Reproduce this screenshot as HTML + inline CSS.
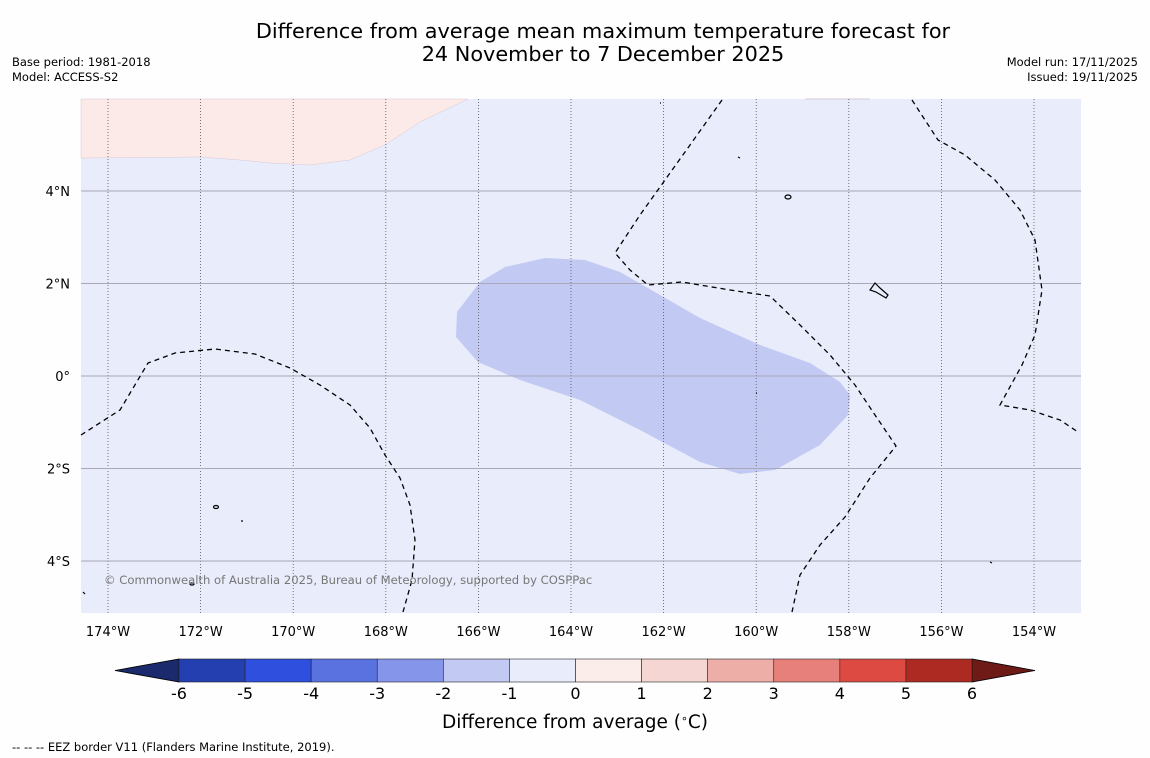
<!DOCTYPE html>
<html><head><meta charset="utf-8"><style>
body{margin:0;background:#fff;width:1150px;height:758px;overflow:hidden;font-family:"DejaVu Sans","Liberation Sans",sans-serif}
svg{display:block}
</style></head><body>
<svg id="c" width="1150" height="758" xmlns="http://www.w3.org/2000/svg">
<rect width="1150" height="758" fill="#fefefe"/>
<text x="603" y="38" font-size="20.8" text-anchor="middle" fill="#000">Difference from average mean maximum temperature forecast for</text>
<text x="603" y="61" font-size="20.8" text-anchor="middle" fill="#000">24 November to 7 December 2025</text>
<text x="12" y="66" font-size="11.5">Base period: 1981-2018</text>
<text x="12" y="81" font-size="11.5">Model: ACCESS-S2</text>
<text x="1138" y="66" font-size="11.5" text-anchor="end">Model run: 17/11/2025</text>
<text x="1138" y="81" font-size="11.5" text-anchor="end">Issued: 19/11/2025</text>
<g>
<rect x="81" y="99" width="1000" height="514" fill="#e9ecfa"/>
<path d="M81,99 L468,99 L420,122 L385,145 L350,160 L310,165 L270,163 L240,160 L200,157 L81,158 Z" fill="#fbeae8" stroke="#d8c8d8" stroke-width="0.5"/>
<path d="M805,99 L870,99" stroke="#d8c8d8" stroke-width="1"/>
<path d="M457,312 L480,282 L505,267 L545,258 L585,260 L620,272 L660,295 L700,318 L760,345 L810,363 L840,382 L850,395 L848,415 L820,445 L775,470 L740,474 L700,462 L640,430 L580,400 L520,380 L478,362 L456,337 Z" fill="#c2c9f3"/>
<g id="grid"></g>
<g fill="none" stroke="#000" stroke-width="1.3" stroke-dasharray="5,4">
<path d="M81,435 L120,410 L148,363 L175,353 L215,349 L255,354 L290,368 L320,385 L350,405 L370,428 L385,455 L400,478 L410,505 L415,540 L412,580 L403,612"/>
<path d="M722,100 L690,145 L665,180 L640,215 L615,253 L630,270 L648,285 L682,282 L730,290 L770,296 L800,325 L830,355 L855,385 L875,415 L896,446 L870,478 L845,517 L820,545 L800,575 L792,612"/>
<path d="M912,100 L938,140 L965,155 L995,180 L1020,210 L1035,240 L1042,290 L1035,335 L1022,365 L1000,405 L1030,410 L1060,420 L1078,432"/>
</g>
<g fill="none" stroke="#000" stroke-width="1.2">
<ellipse cx="788" cy="197" rx="3" ry="2"/>
<path d="M870,290 L875,283 L880,288 L888,295 L886,298 L876,292 Z"/>
<ellipse cx="216" cy="507" rx="2.5" ry="1.5"/>
<ellipse cx="192" cy="584" rx="2" ry="1"/>
<path d="M660,103 l1,0 M738,157 l2,1 M756,393 l1,0 M242,520 l0,2 M990,562 l2,1 M83,592 l2,2"/>
</g>
<text x="104" y="584" font-size="11.6" fill="#777">© Commonwealth of Australia 2025, Bureau of Meteorology, supported by COSPPac</text>
</g>
<g id="axes"></g>
<g id="cbar"></g>
<text x="575" y="728" font-size="18.5" text-anchor="middle">Difference from average (<tspan baseline-shift="super" font-size="11">∘</tspan>C)</text>
<text x="12" y="751" font-size="11.5">--  --  -- EEZ border V11 (Flanders Marine Institute, 2019).</text>
</svg>
<script>
const lonTicks=[-174,-172,-170,-168,-166,-164,-162,-160,-158,-156,-154];
const latTicks=[4,2,0,-2,-4];
const cbarLevels=[-6,-5,-4,-3,-2,-1,0,1,2,3,4,5,6];
const cbarColors=["#2440b0","#2f50de","#5a72e0","#8596ea","#c2c9f3","#e9ecfa","#fbede9","#f5d6d3","#eeaea8","#e7807a","#dd4a42","#ad2a22"];
const NS="http://www.w3.org/2000/svg";
function X(lon){return 108+(lon+174)*46.3;}
function Y(lat){return 376-lat*46.25;}
function mk(t,a,p){const e=document.createElementNS(NS,t);for(const k in a)e.setAttribute(k,a[k]);p.appendChild(e);return e;}
const grid=document.getElementById('grid'),axes=document.getElementById('axes'),cb=document.getElementById('cbar');
lonTicks.forEach(l=>{
 const x=X(l);
 const g=mk('line',{x1:x,x2:x,y1:99,y2:613,stroke:'#555',"stroke-width":0.8,"stroke-dasharray":"1,2"},grid);
 
 
 const t=mk('text',{x:x,y:636,"font-size":13,"text-anchor":"middle"},axes);
 t.textContent=Math.abs(l)+'°W';
 
 
});
latTicks.forEach(l=>{
 const y=Y(l);
 const g=mk('line',{x1:81,x2:1081,y1:y,y2:y,stroke:'#a8a8b8',"stroke-width":1},grid);
 
 
 const t=mk('text',{x:70,y:y+5,"font-size":13,"text-anchor":"end"},axes);
 t.textContent=l===0?'0°':Math.abs(l)+'°'+(l>0?'N':'S');
 
 
});
const c0=179,c1=972,cy=659,ch=23;
function CX(v){return c0+(v+6)/12*(c1-c0);}
const lo=mk('polygon',{points:`115,${cy+ch/2} ${c0},${cy} ${c0},${cy+ch}`,fill:'#1a2a6c',stroke:'#000',"stroke-width":0.8},cb);


const hi=mk('polygon',{points:`1035,${cy+ch/2} ${c1},${cy} ${c1},${cy+ch}`,fill:'#6e1a16',stroke:'#000',"stroke-width":0.8},cb);


cbarColors.forEach((c,i)=>{
 const x=CX(cbarLevels[i]),w=CX(cbarLevels[i+1])-x;
 const r=mk('rect',{x:x,y:cy,width:w,height:ch,fill:c,stroke:'#222',"stroke-width":0.6},cb);
 
 
});
cbarLevels.forEach(v=>{
 const t=mk('text',{x:CX(v),y:699,"font-size":16,"text-anchor":"middle"},cb);
 t.textContent=v;
 
 
});
</script>
</body></html>
